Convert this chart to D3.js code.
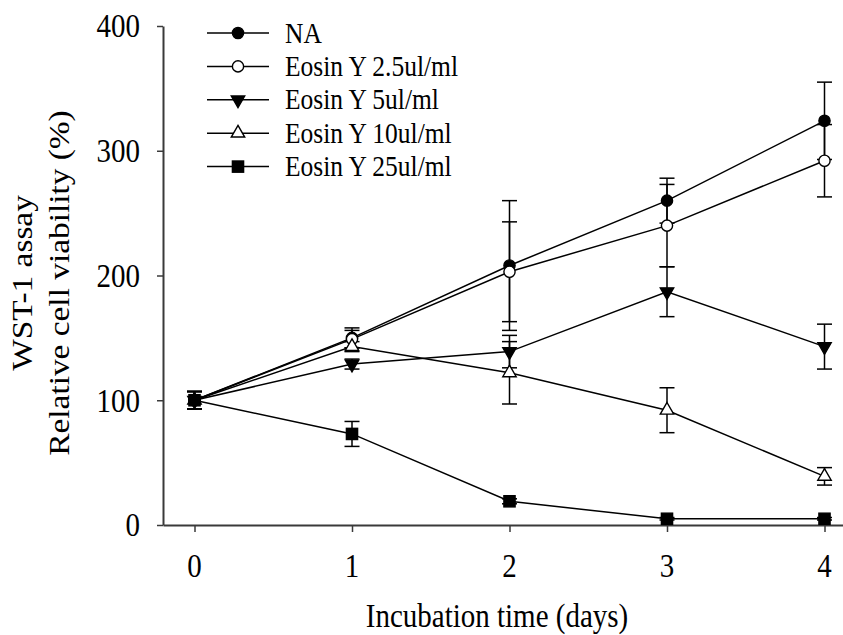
<!DOCTYPE html>
<html>
<head>
<meta charset="utf-8">
<script src="https://cdn.jsdelivr.net/npm/d3@7"></script>
<style>
  html, body { margin: 0; padding: 0; background: #fff; }
  svg { display: block; }
  text { font-family: "Liberation Serif", "Times New Roman", serif; fill: #000; }
</style>
</head>
<body>
<svg id="chart" width="843" height="635"></svg>
<script>
// ---- data ----
const days = [0, 1, 2, 3, 4];
const seriesNames = ["NA", "Eosin Y 2.5ul/ml", "Eosin Y 5ul/ml", "Eosin Y 10ul/ml", "Eosin Y 25ul/ml"];
const seriesSymbols = ["circleFilled", "circleOpen", "triangleDownFilled", "triangleUpOpen", "squareFilled"];
const naMean      = [100, 150, 208, 260, 324];
const naErr       = [7, 8, 52, 18, 31];
const ey2_5Mean   = [100, 149, 203, 240, 292];
const ey2_5Err    = [7, 7, 40, 33, 29];
const ey5Mean     = [100, 129, 139, 187, 143];
const ey5Err      = [7, 4, 13, 20, 18];
const ey10Mean    = [100, 143, 122, 92, 39];
const ey10Err     = [7, 4, 25, 18, 7];
const ey25Mean    = [100, 73, 19, 5, 5];
const ey25Err     = [7, 10, 2, 1, 1];
const xTicks = [0, 1, 2, 3, 4];
const yTicks = [0, 100, 200, 300, 400];
const xTitle = "Incubation time (days)";
const yTitleLines = ["WST-1 assay", "Relative cell viability (%)"];

const means = [naMean, ey2_5Mean, ey5Mean, ey10Mean, ey25Mean];
const errs  = [naErr, ey2_5Err, ey5Err, ey10Err, ey25Err];
const series = seriesNames.map((name, i) => ({
  name, sym: seriesSymbols[i],
  points: days.map((d, j) => ({ x: d, y: means[i][j], e: errs[i][j] }))
}));

// ---- layout ----
const svg = d3.select("#chart");
const SY = 1.15; // vertical stretch of the original figure's text
const x = d3.scaleLinear().domain([-0.2, 4.2]).range([163, 856]);
const y = d3.scaleLinear().domain([0, 400]).range([525, 26]);
const axisColor = "#3a3a3a";

// axes
const gx = svg.append("g").attr("transform", `translate(0,${y(0)})`)
  .call(d3.axisBottom(x).tickValues(xTicks).tickSize(7).tickSizeOuter(0).tickFormat(""));
const gy = svg.append("g").attr("transform", `translate(${x(-0.2)},0)`)
  .call(d3.axisLeft(y).tickValues(yTicks).tickSize(6).tickSizeOuter(0).tickFormat(""));
[gx, gy].forEach(g => {
  g.select(".domain").attr("stroke", axisColor).attr("stroke-width", 2);
  g.selectAll(".tick line").attr("stroke", axisColor).attr("stroke-width", 1.5);
});

// tick labels
svg.append("g").selectAll("text").data(xTicks).join("text")
  .attr("transform", d => `translate(${x(d)},577) scale(1,${SY})`)
  .attr("text-anchor", "middle").attr("font-size", 29).text(d => d);
svg.append("g").selectAll("text").data(yTicks).join("text")
  .attr("transform", d => `translate(140,${y(d)}) scale(1,${SY})`)
  .attr("text-anchor", "end").attr("dy", "0.34em").attr("font-size", 29).text(d => d);

// titles
svg.append("text")
  .attr("transform", `translate(497,627) scale(1,${SY})`)
  .attr("text-anchor", "middle").attr("font-size", 29).text(xTitle);
const yTitleX = [32, 69];
yTitleLines.forEach((t, i) => {
  const tx = svg.append("text")
    .attr("transform", `translate(${yTitleX[i]},283) rotate(-90)`)
    .attr("text-anchor", "middle").attr("font-size", 29).text(t);
  const L = tx.node().getComputedTextLength();
  tx.attr("textLength", L * SY).attr("lengthAdjust", "spacingAndGlyphs");
});

// symbol drawing
function drawSymbol(g, sym, cx, cy) {
  const filled = sym.endsWith("Filled");
  const fill = filled ? "#000" : "#fff";
  let el;
  if (sym.startsWith("circle")) {
    el = g.append("circle").attr("cx", cx).attr("cy", cy).attr("r", 5.6);
  } else if (sym.startsWith("square")) {
    el = g.append("rect").attr("x", cx - 5.6).attr("y", cy - 5.6).attr("width", 11.2).attr("height", 11.2);
  } else {
    const rot = sym.startsWith("triangleDown") ? 180 : 0;
    el = g.append("path").attr("d", d3.symbol(d3.symbolTriangle, 78)())
      .attr("transform", `translate(${cx},${cy}) rotate(${rot})`);
  }
  el.attr("fill", fill).attr("stroke", "#000").attr("stroke-width", 1.4);
}

const line = d3.line().x(d => x(d.x)).y(d => y(d.y));
const gLines = svg.append("g");
const gErr = svg.append("g");
const gMarks = svg.append("g");

series.forEach(s => {
  gLines.append("path").attr("d", line(s.points))
    .attr("fill", "none").attr("stroke", "#000").attr("stroke-width", 1.5);
  s.points.forEach(p => {
    const px = x(p.x), top = y(p.y + p.e), bot = y(p.y - p.e);
    gErr.append("line").attr("x1", px).attr("x2", px).attr("y1", top).attr("y2", bot)
      .attr("stroke", "#000").attr("stroke-width", 1.5);
    [top, bot].forEach(cy => gErr.append("line")
      .attr("x1", px - 7.5).attr("x2", px + 7.5).attr("y1", cy).attr("y2", cy)
      .attr("stroke", "#000").attr("stroke-width", 1.5));
  });
  s.points.forEach(p => drawSymbol(gMarks, s.sym, x(p.x), y(p.y)));
});

// legend
const legendRowY = d => 33 + d * 33.4;
const gLeg = svg.append("g");
series.forEach((s, i) => {
  const cy = legendRowY(i);
  gLeg.append("line").attr("x1", 207).attr("x2", 269).attr("y1", cy).attr("y2", cy)
    .attr("stroke", "#000").attr("stroke-width", 1.5);
  drawSymbol(gLeg, s.sym, 238, cy);
  gLeg.append("text")
    .attr("transform", `translate(285,${cy + 9.5}) scale(1,${SY})`)
    .attr("font-size", 25.5).text(s.name);
});
</script>
</body>
</html>
